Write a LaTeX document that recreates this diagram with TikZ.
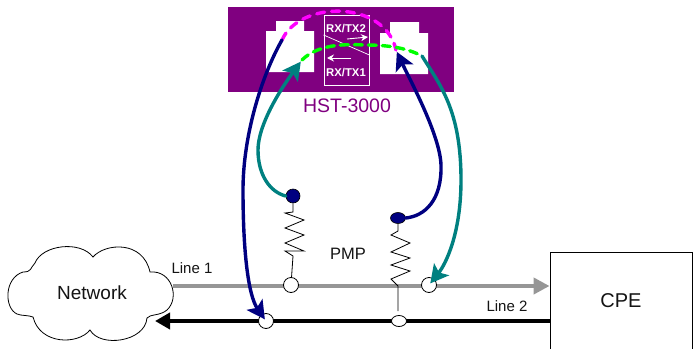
\documentclass[tikz,border=0pt]{standalone}
\usepackage{fontspec}
\setmainfont{Liberation Sans}
\definecolor{boxpurple}{RGB}{128, 0, 128}
\definecolor{wirenavy}{RGB}{0, 0, 128}
\definecolor{wireteal}{RGB}{0, 128, 128}
\definecolor{linegray}{RGB}{150, 150, 150}
\definecolor{textdark}{RGB}{20, 20, 20}
\definecolor{jumperpink}{RGB}{255, 0, 255}
\definecolor{jumpergreen}{RGB}{0, 255, 0}
\usetikzlibrary{arrows.meta, calc, shapes.geometric}
\tikzset{
  label/.style={inner sep=0pt, text=textdark, font=\fontsize{#1}{#1}\selectfont},
  rxlabel/.style={inner sep=0pt, text=white, font=\fontsize{11.3}{11.3}\selectfont\bfseries},
  tap/.style={circle, draw=black, fill=white, line width=0.8pt, inner sep=0pt, minimum size=15pt},
  flattap/.style={ellipse, draw=black, fill=white, line width=0.8pt, inner sep=0pt, minimum width=15pt, minimum height=11pt},
  probe/.style={circle, draw=black, fill=wirenavy, line width=0.6pt, inner sep=0pt, minimum size=14pt},
  flatprobe/.style={ellipse, draw=black, fill=wirenavy, line width=0.6pt, inner sep=0pt, minimum width=15pt, minimum height=11pt},
  cord/.style={line width=3.4pt, line cap=round},
  cordhead/.style={-{Stealth[length=18pt, width=19pt, inset=4pt]}, shorten >=2pt}
}

\begin{document}
\begin{tikzpicture}[x=1pt, y=-1pt]
        \useasboundingbox (0,0) rectangle (693,348);
        % test set
        \fill[boxpurple] (228,7) rectangle (454,92);
        \fill[white] (266,31) -| (276,21) -| (304,31) -| (314,72) -| cycle;
        \fill[white] (380,33) -| (390,22) -| (419,33) -| (428,74) -| cycle;
        \node[draw=white, line width=0.8pt, minimum width=45pt, minimum height=70pt, inner sep=0pt] (switch) at (346.5,50) {};
        \draw[white, line width=0.7pt] (switch.west |- 0,35) -- (switch.east |- 0,55);
        \node[rxlabel] (rxtwo) at (346,29) {RX/TX2};
        \node[rxlabel] (rxone) at (346,73) {RX/TX1};
        \draw[white, line width=0.9pt, -{Stealth[length=7pt, width=7pt]}] (347,39) -- (368,37);
        \draw[white, line width=0.9pt, -{Stealth[length=7pt, width=7pt]}] (351,58) -- (327,58);
        \node[label=19.5, text=boxpurple] (hst) at (347,106) {HST-3000};

        \coordinate (jackLa) at (282,40);
        \coordinate (jackLb) at (302,60);
        \coordinate (jackRa) at (396,50);
        \coordinate (jackRb) at (422,56);

        % network cloud
        \draw[black, line width=0.8pt, fill=white] (17,314)
          .. controls (4,308) and (4,278) .. (23,272)
          .. controls (32,272) and (30,268) .. (35,263)
          .. controls (42,245) and (80,240) .. (93,257)
          .. controls (105,243) and (143,240) .. (150,272)
          .. controls (172,270) and (180,298) .. (167,310)
          .. controls (160,316) and (150,314) .. (147,318)
          .. controls (145,342) and (100,348) .. (90,330)
          .. controls (78,345) and (40,345) .. (33,317)
          .. controls (28,315) and (22,316) .. (17,314) -- cycle;
        \node[label=19] (network) at (92,293) {Network};
        \coordinate (lineoneL) at (173,286);
        \coordinate (linetwoL) at (155,321);

        \node[draw=black, line width=0.9pt, minimum width=142pt, minimum height=98pt, inner sep=0pt, label=20] (cpe) at (621,301) {CPE};

        % the two lines
        \draw[linegray, line width=4pt, -{Triangle[length=16pt, width=16pt]}] (lineoneL) -- (lineoneL -| cpe.west);
        \draw[black, line width=4pt, -{Triangle[length=15pt, width=16pt]}] (linetwoL -| cpe.west) -- (linetwoL);
        \node[label=15] (lineone) at (192,268) {Line 1};
        \node[label=15] (linetwo) at (507,306) {Line 2};
        \node[label=16.5] (pmp) at (348,254) {PMP};

        \node[tap] (tapA) at (291,285) {};
        \node[tap] (tapB) at (429,285) {};
        \node[tap] (tapC) at (266,321) {};
        \node[flattap] (tapD) at (399,321) {};
        \node[probe] (dotL) at (293,196) {};
        \node[flatprobe] (dotR) at (398,218) {};

        % resistors
        \draw[black, line width=0.8pt] (dotL) -- (293,212) -- (285,213) -- (304,220) -- (285,228)
          -- (304,235) -- (285,243) -- (304,251) -- (285,251) -- (293,256) -- (tapA);
        \draw[black, line width=0.8pt] (dotR) -- (398,231) -- (391,235) -- (410,243) -- (391,252)
          -- (410,258) -- (391,265) -- (410,271) -- (391,279) -- (398,286) -- (398,311);

        % jumper cords
        \draw[jumperpink, cord, dash pattern=on 8pt off 7pt] (jackLa) .. controls (300,0) and (385,0) .. (jackRa);
        \draw[jumpergreen, cord, dash pattern=on 8pt off 6pt] (jackLb) .. controls (318,44) and (345,44) .. (365,45)
          .. controls (385,45) and (405,47) .. (jackRb);
        \draw[wirenavy, cord, cordhead] (jackLa) .. controls (262,75) and (243,135) .. (243,190)
          .. controls (243,250) and (248,295) .. (tapC.center);
        \draw[wireteal, cord, cordhead] (dotL.west) .. controls (270,192) and (258,175) .. (258,150)
          .. controls (258,125) and (280,90) .. (jackLb);
        \draw[wirenavy, cord, cordhead] (dotR.east) .. controls (425,216) and (442,200) .. (441,165)
          .. controls (440,135) and (410,80) .. (jackRa);
        \draw[wireteal, cord, cordhead] (jackRb) .. controls (440,85) and (461,110) .. (461,180)
          .. controls (461,235) and (445,265) .. (tapB.center);
      \end{tikzpicture}
\end{document}
